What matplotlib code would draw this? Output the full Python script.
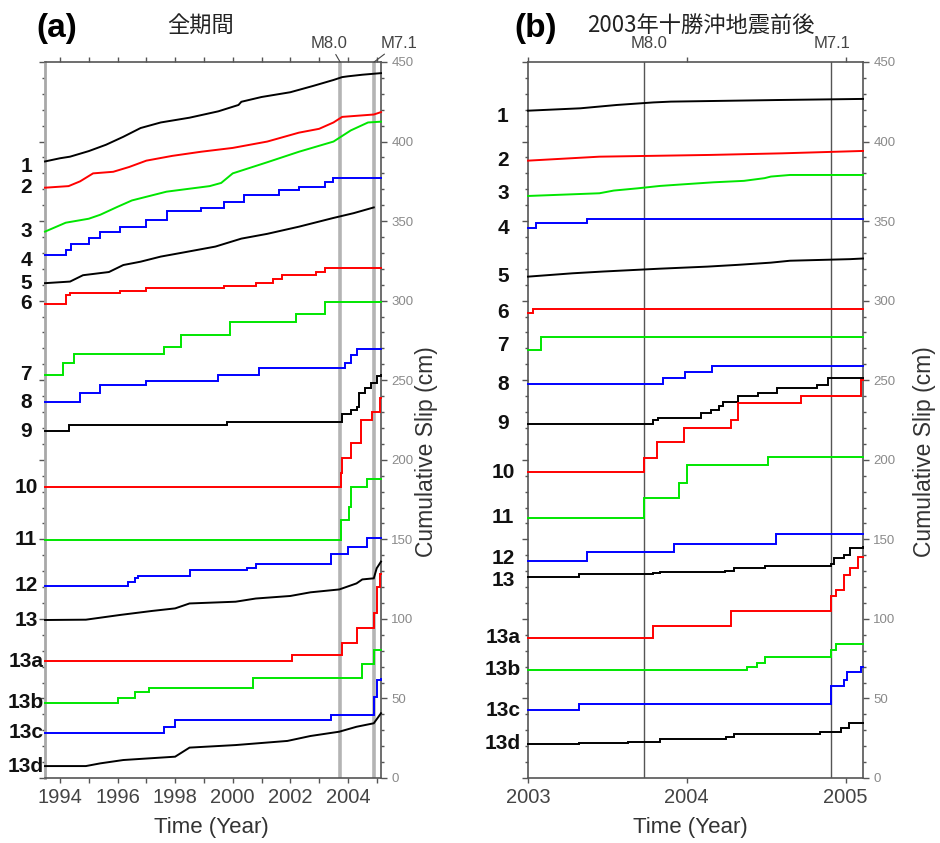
import matplotlib
matplotlib.use('Agg')
import matplotlib.pyplot as plt
import matplotlib.transforms as mtransforms
from matplotlib.ticker import MultipleLocator, FixedLocator, FuncFormatter

LATIN = 'Liberation Sans'
CJK = 'Noto Sans CJK JP'
plt.rcParams['font.family'] = [LATIN, 'DejaVu Sans']

# ---------------- data ----------------
STATIONS = ['1', '2', '3', '4', '5', '6', '7', '8', '9', '10', '11', '12',
            '13', '13a', '13b', '13c', '13d']
COLORS = ['#000000', '#ff0000', '#00e600', '#0000ff'] * 4 + ['#000000']

EVENT_YEARS = [2003.73, 2004.91]
EVENT_LABELS = ['M8.0', 'M7.1']

TITLE_A = '全期間'
TITLE_B = '2003年十勝沖地震前後'
XLIM_A = (1993.48, 2005.15)
XLIM_B = (2003.0, 2005.11)
YLIM = (0, 450)

# panel (a): (year, cumulative slip cm)
A_1 = [(1993.48, 387.5), (1994.0, 389.5), (1994.35, 390.5), (1995.0, 394), (1995.6, 398),
       (1996.2, 403), (1996.8, 408.5), (1997.5, 412), (1998.5, 415), (1999.5, 419),
       (2000.2, 423), (2000.3, 425), (2001.0, 428), (2002.0, 431), (2002.8, 435),
       (2003.5, 438.7), (2003.8, 440.5), (2004.0, 441), (2004.5, 442), (2005.15, 443)]
A_2 = [(1993.48, 371), (1994.3, 372), (1994.7, 375), (1995.15, 380), (1995.85, 381),
       (1996.4, 384), (1997.0, 388), (1997.9, 391), (1998.9, 393.6), (2000.0, 396),
       (2001.2, 400), (2002.3, 405.6), (2003.0, 408), (2003.5, 412), (2003.8, 415.5),
       (2004.9, 417), (2005.15, 418.5)]
A_3 = [(1993.48, 343.4), (1994.2, 349), (1995.0, 351.5), (1995.4, 354), (1996.0, 359),
       (1996.5, 363), (1997.7, 368.5), (1999.2, 372), (1999.6, 374), (2000.0, 380),
       (2001.2, 387), (2002.3, 393.6), (2003.5, 400), (2004.1, 407), (2004.7, 412),
       (2005.15, 412.5)]
A_4 = [(1993.48, 328.7), (1994.2, 332), (1994.4, 335.6), (1995.0, 339.4), (1995.4, 343.4),
       (1996.1, 346.5), (1997.0, 350.7), (1997.7, 356.6), (1998.9, 358), (1999.7, 362),
       (2000.4, 366.4), (2001.6, 369.6), (2002.3, 371.6), (2003.2, 374.8), (2003.5, 377),
       (2005.15, 377)]
A_5 = [(1993.48, 311), (1994.35, 312), (1994.8, 316), (1995.7, 318), (1996.2, 322.4),
       (1996.8, 324.5), (1997.5, 327.7), (1998.2, 330), (1999.4, 334), (2000.3, 339),
       (2001.2, 342), (2002.3, 346.5), (2003.5, 352), (2004.2, 355), (2004.9, 358.6)]
A_6 = [(1993.48, 298), (1994.2, 303.6), (1994.35, 304.6), (1996.1, 306), (1997.0, 307.7),
       (1999.7, 309.3), (2000.8, 311), (2001.4, 313.4), (2001.7, 316), (2002.9, 318),
       (2003.2, 320.6), (2005.15, 320.6)]
A_7 = [(1993.48, 253.3), (1994.1, 261), (1994.5, 266.3), (1997.6, 271), (1998.2, 278.4),
       (1999.9, 286.8), (2002.2, 291.6), (2003.2, 299.4), (2005.15, 299.4)]
A_8 = [(1993.48, 236), (1994.7, 242), (1995.4, 247), (1997.0, 249.6), (1999.5, 253.3),
       (2000.9, 257.4), (2003.9, 260.6), (2004.1, 265.9), (2004.3, 269.4), (2005.15, 269.4)]
A_9 = [(1993.48, 218), (1994.3, 221.8), (1999.8, 224), (2003.8, 229), (2004.1, 231),
       (2004.3, 233), (2004.4, 241.8), (2004.6, 245), (2004.8, 248), (2005.0, 252.7),
       (2005.15, 253)]
A_10 = [(1993.48, 182.6), (2003.75, 191.7), (2003.8, 201), (2004.1, 210.5), (2004.45, 225),
        (2004.85, 230), (2005.12, 238.8), (2005.15, 238.8)]
A_11 = [(1993.48, 149.6), (2003.75, 162), (2004.05, 170.5), (2004.12, 183), (2004.65, 188),
        (2005.15, 188)]
A_12 = [(1993.48, 120.7), (1996.37, 123.4), (1996.6, 125.5), (1996.7, 127), (1998.5, 130.7),
        (2000.5, 132), (2000.8, 134.5), (2003.4, 140.8), (2004.0, 145), (2004.65, 150.6),
        (2005.15, 150.6)]
A_13 = [(1993.48, 99.3), (1994.9, 99.5), (1996.1, 102.5), (1997.2, 105), (1998.0, 106.6),
        (1998.5, 109.7), (2000.1, 110.8), (2000.8, 112.8), (2002.0, 114.4), (2002.7, 116.7),
        (2003.7, 118.5), (2004.3, 122.3), (2004.5, 124.8), (2004.9, 125.5), (2005.0, 131.8),
        (2005.15, 136)]
A_13A = [(1993.48, 73.5), (2002.05, 77.3), (2003.8, 85), (2004.3, 94.5), (2004.9, 103.5),
         (2005.0, 120), (2005.12, 128), (2005.15, 128)]
A_13B = [(1993.48, 47.3), (1996.0, 50), (1996.6, 54.2), (1997.1, 56.3), (2000.7, 62.6),
         (2004.5, 71.6), (2004.9, 80.4), (2005.15, 80.4)]
A_13C = [(1993.48, 28.5), (1997.6, 31.8), (1998.0, 36.5), (2003.4, 39.4), (2004.9, 51),
         (2005.0, 61.6), (2005.15, 62)]
A_13D = [(1993.48, 7.5), (1994.9, 7.5), (1995.4, 9.2), (1996.2, 11.3), (1998.0, 13.4),
         (1998.5, 19.1), (2000.1, 20.7), (2001.9, 23.3), (2002.7, 26.4), (2003.7, 29.1),
         (2004.3, 32.2), (2004.9, 34.4), (2005.15, 40.7)]

# panel (b): (year, cumulative slip cm)
B_1 = [(2003.0, 419.4), (2003.33, 420.9), (2003.56, 423), (2003.79, 424.6), (2003.9, 425.1),
       (2004.57, 426.1), (2005.11, 426.8)]
B_2 = [(2003.0, 388), (2003.45, 390.5), (2004.15, 391.6), (2004.6, 392.6), (2005.11, 394.1)]
B_3 = [(2003.0, 365.8), (2003.45, 367.5), (2003.54, 369.2), (2003.69, 370.6), (2003.83, 372.1),
       (2003.96, 373), (2004.17, 374.4), (2004.36, 375.3), (2004.49, 377), (2004.53, 378),
       (2004.65, 379), (2005.11, 379)]
B_4 = [(2003.0, 345.4), (2003.05, 349), (2003.37, 351.1), (2005.11, 351.1)]
B_5 = [(2003.0, 315.1), (2003.28, 317.2), (2003.47, 318.3), (2003.83, 320.1), (2004.13, 321.4),
       (2004.32, 322.5), (2004.53, 323.9), (2004.65, 325.1), (2005.03, 326.1), (2005.11, 326.5)]
B_6 = [(2003.0, 292.5), (2003.03, 294.6), (2005.11, 294.6)]
B_7 = [(2003.0, 269), (2003.08, 277), (2005.11, 277)]
B_8 = [(2003.0, 247.6), (2003.85, 251.5), (2003.99, 255.3), (2004.16, 259.2), (2005.11, 259.2)]
B_9 = [(2003.0, 222.5), (2003.79, 225), (2003.82, 226.5), (2004.09, 229.2), (2004.15, 231.3),
       (2004.2, 234), (2004.23, 236.4), (2004.32, 240.1), (2004.45, 241.7), (2004.57, 244.8),
       (2004.82, 247), (2004.89, 251.2), (2005.11, 251.2)]
B_10 = [(2003.0, 192.1), (2003.73, 200.9), (2003.81, 211.4), (2003.98, 219.8), (2004.28, 225),
        (2004.32, 235.5), (2004.72, 240.1), (2005.1, 250.2), (2005.11, 250.2)]
B_11 = [(2003.0, 163.5), (2003.73, 175.7), (2003.95, 185.2), (2004.0, 196.7), (2004.51, 201.5),
        (2005.11, 201.5)]
B_12 = [(2003.0, 136.5), (2003.37, 142.2), (2003.92, 147.1), (2004.56, 153.2), (2005.11, 153.2)]
B_13 = [(2003.0, 126.5), (2003.32, 128), (2003.79, 128.8), (2003.83, 129.5), (2004.24, 130.2),
        (2004.3, 131.8), (2004.49, 133.2), (2004.91, 134.5), (2004.93, 138.1), (2004.99, 140.2),
        (2005.03, 144.4), (2005.11, 145.4)]
B_13A = [(2003.0, 88.2), (2003.79, 95.8), (2004.28, 105.2), (2004.91, 114.4), (2004.94, 118.2),
         (2004.99, 127.6), (2005.03, 131.8), (2005.08, 139.1), (2005.11, 139.1)]
B_13B = [(2003.0, 67.9), (2004.38, 70), (2004.44, 72.4), (2004.49, 76.2), (2004.91, 80.5),
         (2004.94, 84.2), (2005.11, 84.2)]
B_13C = [(2003.0, 42.7), (2003.32, 46.3), (2004.91, 57.8), (2004.99, 61.6), (2005.01, 66.8),
         (2005.1, 70), (2005.11, 70)]
B_13D = [(2003.0, 21.4), (2003.32, 22.1), (2003.63, 22.8), (2003.83, 24.3), (2004.25, 26),
         (2004.3, 27.7), (2004.84, 29.1), (2004.97, 31.2), (2005.02, 34.4), (2005.11, 34.4)]

SERIES_A = [A_1, A_2, A_3, A_4, A_5, A_6, A_7, A_8, A_9, A_10, A_11, A_12, A_13,
            A_13A, A_13B, A_13C, A_13D]
SERIES_B = [B_1, B_2, B_3, B_4, B_5, B_6, B_7, B_8, B_9, B_10, B_11, B_12, B_13,
            B_13A, B_13B, B_13C, B_13D]
# stepwise (True) or gradual (False) drawing
STEP_A = [False, False, False, True, False, True, True, True, True, True, True, True,
          False, True, True, True, False]
STEP_B = [False, False, False, True, False, True, True, True, True, True, True, True,
          True, True, True, True, True]

# ---------------- figure ----------------
W, H = 940, 843
fig = plt.figure(figsize=(W / 100, H / 100), dpi=100)


def fx(px):
    return px / W


def fy(py):
    return 1 - py / H


AX_TOP, AX_BOT = 62, 778
ax_a = fig.add_axes([fx(45), fy(AX_BOT), fx(381 - 45), (AX_BOT - AX_TOP) / H])
ax_b = fig.add_axes([fx(528), fy(AX_BOT), fx(863 - 528), (AX_BOT - AX_TOP) / H])

SPINE_C = '#555555'
TICK_LABEL_C = '#444444'

# small vertical label nudges (in points) so that neighbouring names do not collide
NUDGE_A = {'1': -4, '4': -4}
NUDGE_B = {'1': -4, '12': 2, '13': -3, '3': 2, '7': 3}


def style_axes(ax, xlim, xmajor, xminor):
    ax.set_xlim(*xlim)
    ax.set_ylim(*YLIM)
    ax.yaxis.set_major_locator(MultipleLocator(50))
    ax.yaxis.set_minor_locator(MultipleLocator(10))
    ax.xaxis.set_major_locator(xmajor)
    if xminor is not None:
        ax.xaxis.set_minor_locator(xminor)
    ax.xaxis.set_major_formatter(FuncFormatter(lambda v, p: f'{int(round(v))}'))
    ax.yaxis.set_major_formatter(FuncFormatter(lambda v, p: f'{int(round(v))}'))
    for sp in ax.spines.values():
        sp.set_color(SPINE_C)
        sp.set_linewidth(1.2)
    ax.tick_params(axis='y', which='both', left=True, right=True, labelleft=False,
                   labelright=True, direction='out', color=SPINE_C, width=1.0,
                   labelcolor='#8a8a8a', labelsize=9.5, pad=3)
    ax.tick_params(axis='y', which='major', length=4.5)
    ax.tick_params(axis='y', which='minor', length=2.5)
    ax.tick_params(axis='x', which='both', top=True, bottom=True, labeltop=False,
                   direction='out', color=SPINE_C, width=1.0, length=3.5,
                   labelcolor=TICK_LABEL_C, labelsize=14.5, pad=4)


def draw_series(ax, series, steps, label_x, nudges):
    base = mtransforms.blended_transform_factory(ax.transAxes, ax.transData)
    for name, pts, col, st in zip(STATIONS, series, COLORS, steps):
        t = [p[0] for p in pts]
        s = [p[1] for p in pts]
        ax.plot(t, s, color=col, lw=1.4, drawstyle='steps-post' if st else 'default',
                zorder=3, solid_joinstyle='miter', clip_on=False)
        trans = base + mtransforms.ScaledTranslation(0, nudges.get(name, 0) / 72,
                                                     fig.dpi_scale_trans)
        ax.text(label_x, s[0], name, transform=trans, ha='center', va='center',
                fontsize=15, fontweight='bold', color='#111111', clip_on=False)


# ----- panel (a) -----
style_axes(ax_a, XLIM_A, MultipleLocator(2), MultipleLocator(1))
for ev in EVENT_YEARS:
    ax_a.axvline(ev, color='#b4b4b4', lw=2.6, zorder=2)
ax_a.spines['left'].set_color('#a8a8a8')
ax_a.spines['left'].set_linewidth(2.0)
draw_series(ax_a, SERIES_A, STEP_A, (26 - 45) / (381 - 45), NUDGE_A)
for ev, lab, dx in zip(EVENT_YEARS, EVENT_LABELS, [-11, 25]):
    ax_a.annotate(lab, xy=(ev, YLIM[1]), xycoords='data', xytext=(dx, 19),
                  textcoords='offset pixels', ha='center', va='center', fontsize=12,
                  color='#444444', annotation_clip=False,
                  arrowprops=dict(arrowstyle='-', color='#444444', lw=0.8,
                                  shrinkA=1, shrinkB=0))

# ----- panel (b) -----
style_axes(ax_b, XLIM_B, FixedLocator([2003, 2004, 2005]), None)
for ev in EVENT_YEARS:
    ax_b.axvline(ev, color='#555555', lw=1.0, zorder=2)
draw_series(ax_b, SERIES_B, STEP_B, (503 - 528) / (863 - 528), NUDGE_B)
for ev, lab, dx in zip(EVENT_YEARS, EVENT_LABELS, [5, 1]):
    ax_b.annotate(lab, xy=(ev, YLIM[1]), xycoords='data', xytext=(dx, 19),
                  textcoords='offset pixels', ha='center', va='center', fontsize=12,
                  color='#444444', annotation_clip=False)

# ----- texts -----
fig.text(fx(57), fy(29), '(a)', fontsize=24, fontweight='bold', ha='center', va='center')
fig.text(fx(536), fy(29), '(b)', fontsize=24, fontweight='bold', ha='center', va='center')
fig.text(fx(201), fy(25), TITLE_A, fontsize=16, family=[CJK, 'DejaVu Sans'],
         ha='center', va='center', color='#222222')
fig.text(fx(701), fy(25), TITLE_B, fontsize=16, family=[CJK, 'DejaVu Sans'],
         ha='center', va='center', color='#222222')
for cx in (211, 690):
    fig.text(fx(cx), fy(828), 'Time (Year)', fontsize=16, ha='center', va='center',
             color='#333333')
for cx in (427, 924):
    fig.text(fx(cx), fy(452), 'Cumulative Slip (cm)', fontsize=16.5, rotation=90,
             ha='center', va='center', color='#333333')

fig.savefig('out.png', dpi=100)
